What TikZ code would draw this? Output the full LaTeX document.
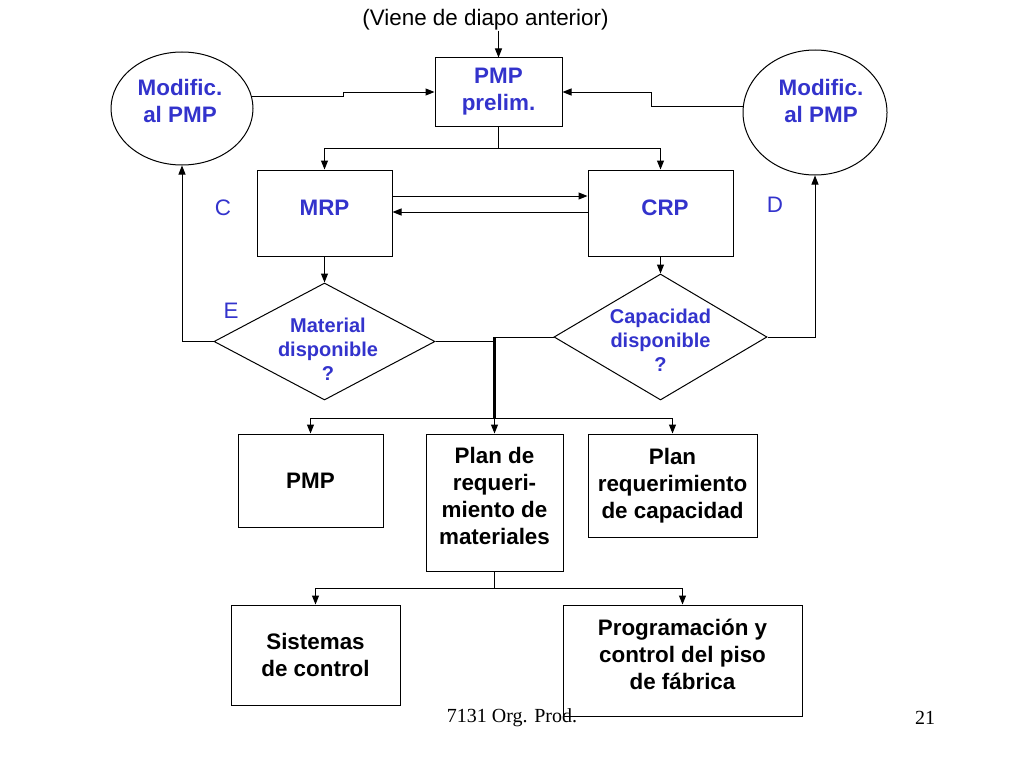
\documentclass[tikz,border=0pt]{standalone}
\usepackage{fontspec}
\setmainfont{Liberation Sans}
\newfontfamily\piefont{Liberation Serif}
\usetikzlibrary{shapes.geometric,arrows.meta,positioning}
\definecolor{azul}{RGB}{51,51,204}

\begin{document}
\begin{tikzpicture}[x=1pt,y=-1pt,
    every node/.style={font=\fontsize{22.4}{27}\selectfont\bfseries, align=center, inner sep=0pt},
    caja/.style={draw, rectangle, line width=1pt},
    elip/.style={draw, ellipse, line width=1pt},
    rombo/.style={draw, diamond, line width=1pt},
    pregunta/.style={font=\fontsize{20}{24}\selectfont\bfseries, text=azul},
    letra/.style={font=\fontsize{22.4}{27}\selectfont, text=azul},
    flecha/.style={-{Triangle[length=9pt,width=7pt]}, line width=1pt},
    linea/.style={line width=1pt}]
    \useasboundingbox (0,0) rectangle (1024,768);

    % parte de arriba
    \node [font=\fontsize{22.4}{27}\selectfont] (previa) at (485.5,20) {(Viene de diapo anterior)};
    \node [caja, text=azul, minimum width=127pt, minimum height=68pt] (pmp1) at (498.5,92) {PMP\\prelim.};
    \node [elip, minimum width=142pt, minimum height=113pt] (modl) at (182,108.5) {};
    \node [text=azul] (modlt) at (180,101) {Modific.\\al PMP};
    \node [elip, minimum width=144pt, minimum height=125pt] (modr) at (815,112.5) {};
    \node [text=azul] (modrt) at (821,101) {Modific.\\al PMP};
    \node [caja, text=azul, minimum width=135pt, minimum height=86pt] (mrp) at (324.5,213) {};
    \node [text=azul] (mrpt) at (324.5,208) {MRP};
    \node [caja, text=azul, minimum width=145pt, minimum height=86pt] (crp) at (660.5,213) {};
    \node [text=azul] (crpt) at (665,208) {CRP};
    \node [letra] (c) at (223,208) {C};
    \node [letra] (d) at (775,205) {D};
    \node [letra] (e) at (231,311) {E};

    % preguntas
    \node [rombo, minimum width=221pt, minimum height=117pt] (q1) at (324.5,341.5) {};
    \node [pregunta] (q1t) at (328,349) {Material\\disponible\\?};
    \node [rombo, minimum width=213pt, minimum height=126pt] (q2) at (660.5,337) {};
    \node [pregunta] (q2t) at (660.5,340) {Capacidad\\disponible\\?};
    \coordinate (jn) at (494.5,418);

    % salidas
    \node [caja, minimum width=145pt, minimum height=93pt] (pmp2) at (310.5,480.5) {PMP};
    \node [caja, minimum width=137pt, minimum height=137pt] (prm) at (494.5,502.5) {};
    \node (prmt) at (494.5,496) {Plan de\\requeri-\\miento de\\materiales};
    \node [caja, minimum width=169pt, minimum height=103pt] (prc) at (672.5,485.5) {Plan\\requerimiento\\de capacidad};
    \node [caja, minimum width=169pt, minimum height=100pt] (sis) at (315.5,655) {Sistemas\\de control};
    \node [caja, minimum width=239pt, minimum height=111pt] (prog) at (682.5,660.5) {};
    \node (progt) at (682.5,654) {Programación y\\control del piso\\de fábrica};

    % pie
    \node [font=\piefont\fontsize{20}{24}\selectfont] (pie) at (512,718) {7131 Org. Prod.};
    \node [font=\piefont\fontsize{20}{24}\selectfont] (num) at (925,718) {21};

    % conexiones
    \draw [flecha] (previa.south -| pmp1.north) -- (pmp1.north);
    \draw [flecha] (modl.10) -- ++(92,0) |- (pmp1.west);
    \draw [flecha] (modr.175) -- ++(-91,0) |- (pmp1.east);
    \draw [flecha] (pmp1.south) -- ++(0,22) -| (mrp.north);
    \draw [flecha] (pmp1.south) -- ++(0,22) -| (crp.north);
    \draw [flecha] ([yshift=17pt]mrp.east) -- ([yshift=17pt]crp.west);
    \draw [flecha] ([yshift=1pt]crp.west) -- ([yshift=1pt]mrp.east);
    \draw [flecha] (mrp.south) -- (q1.north);
    \draw [flecha] (crp.south) -- (q2.north);
    \draw [flecha] (q1.west) -| (modl.south);
    \draw [flecha] (q2.east) -| (modr.south);
    \draw [linea] (q1.east) -- (q1.east -| jn);
    \draw [linea] (q2.west) -- (q2.west -| jn);
    \draw [line width=2.5pt] (q2.west -| jn) -- (jn);
    \draw [flecha] (jn) -| (pmp2.north);
    \draw [flecha] (jn) -- (prm.north);
    \draw [flecha] (jn) -| (prc.north);
    \draw [flecha] (prm.south) -- ++(0,17) -| (sis.north);
    \draw [flecha] (prm.south) -- ++(0,17) -| (prog.north);
\end{tikzpicture}
\end{document}
